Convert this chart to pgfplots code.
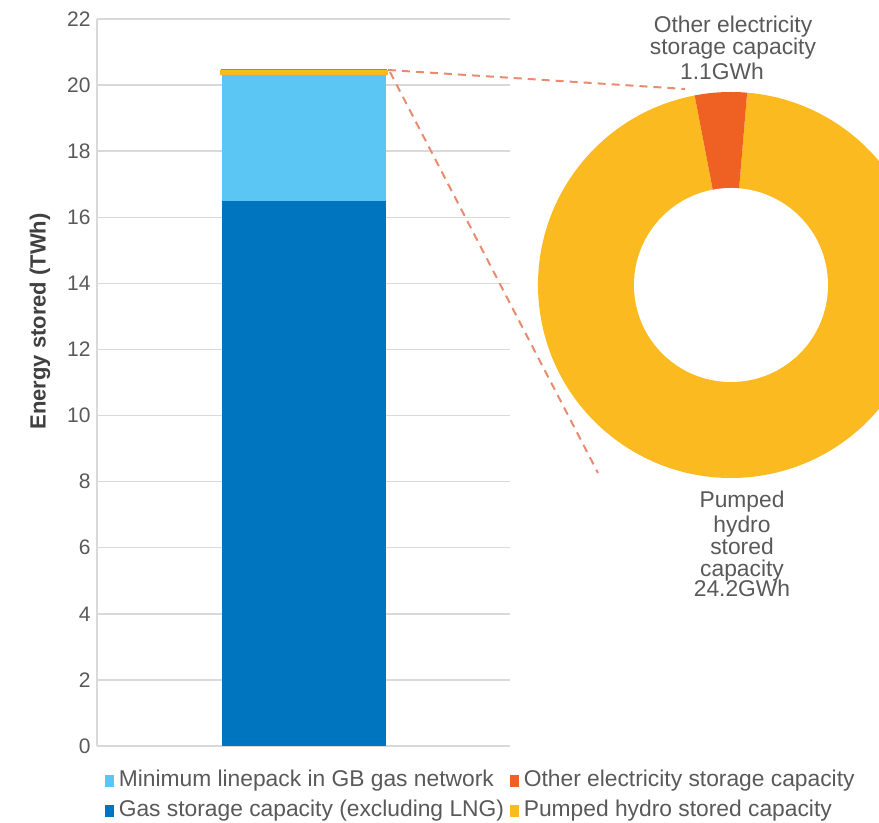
\documentclass[border=0pt]{standalone}
\usepackage{fontspec}
\setmainfont{Liberation Sans}
\usepackage{pgfplots}
\usepackage{pgfplotstable}
\pgfplotsset{compat=1.18}

\definecolor{gasblue}{HTML}{0075BF}
\definecolor{linepack}{HTML}{5BC6F3}
\definecolor{otherelec}{HTML}{EE6123}
\definecolor{pumped}{HTML}{FCBA21}
\definecolor{gridgray}{HTML}{D9D9D9}
\definecolor{txtgray}{HTML}{595959}
\definecolor{labelgray}{HTML}{404040}
\definecolor{dashc}{HTML}{E98B6E}

% Stored energy by category (TWh), stacked in one column
\pgfplotstableread{
pos gas  linepack pumped other
0   16.5 3.8      0.0242 0.0011
}\storedTWh

% Electricity storage split (GWh), shown as a ring
\def\pumpedGWh{24.2}
\def\otherGWh{1.1}
\def\ringstart{85.2}

\begin{document}
\begin{tikzpicture}
\pgfmathsetmacro{\otherend}{\ringstart+360*\otherGWh/(\pumpedGWh+\otherGWh)}
\pgfmathsetmacro{\ringend}{\ringstart+360}
\path[use as bounding box] (0pt,0pt) rectangle (439.5pt,411.5pt);
\clip (0pt,0pt) rectangle (439.5pt,411.5pt);

% stacked column
\begin{axis}[
  at={(48.5pt,38.5pt)}, anchor=south west,
  scale only axis, width=206.5pt, height=363.5pt,
  xmin=-1, xmax=1, ymin=0, ymax=22,
  ybar stacked, bar width=82pt,
  xtick=\empty, ytick={0,2,...,22},
  axis lines*=left,
  x axis line style={draw=none},
  y axis line style={draw=gridgray, line width=0.7pt},
  ymajorgrids, grid style={draw=gridgray, line width=0.7pt},
  major tick length=0pt,
  /pgf/number format/assume math mode=true,
  yticklabel style={font=\fontsize{10.5}{12}\selectfont, text=txtgray,
    anchor=east, inner sep=0pt, xshift=-3pt},
]
\addplot[fill=gasblue, draw=none] table[x=pos, y=gas] {\storedTWh};
\addplot[fill=linepack, draw=none] table[x=pos, y=linepack] {\storedTWh};
% the two electricity layers are far thinner than a pixel: outline them so they show
\addplot[fill=pumped, draw=pumped, line width=2pt, yshift=1.1pt] table[x=pos, y=pumped] {\storedTWh};
\addplot[fill=otherelec, draw=otherelec!85!pumped, line width=1pt, yshift=2.2pt] table[x=pos, y=other] {\storedTWh};
\end{axis}

% ring, connectors, labels and legend on a canvas-sized axis (units = pt)
\begin{axis}[
  at={(0pt,0pt)}, anchor=south west,
  scale only axis, width=439.5pt, height=411.5pt,
  xmin=0, xmax=439.5, ymin=0, ymax=411.5,
  hide axis, clip=false,
  legend columns=2, legend cell align=left,
  legend style={at={(0.11945,0.06926)}, anchor=north west,
    draw=none, fill=none, inner sep=0pt, outer sep=0pt, row sep=0pt,
    font=\fontsize{11.4}{13}\selectfont, text=txtgray,
    nodes={inner xsep=0pt, inner ysep=1.5pt, text height=9pt, text depth=3pt},
    /tikz/every odd column/.append style={column sep=2.5pt},
    /tikz/every even column/.append style={column sep=3pt}},
]
\addlegendimage{legend image code/.code={\fill[linepack] (0pt,-2.5pt) rectangle (4pt,3pt);}}
\addlegendentry{Minimum linepack in GB gas network}
\addlegendimage{legend image code/.code={\fill[otherelec] (0pt,-2.5pt) rectangle (4pt,3pt);}}
\addlegendentry{Other electricity storage capacity}
\addlegendimage{legend image code/.code={\fill[gasblue] (0pt,-2.5pt) rectangle (4pt,3pt);}}
\addlegendentry{Gas storage capacity (excluding LNG)}
\addlegendimage{legend image code/.code={\fill[pumped] (0pt,-2.5pt) rectangle (4pt,3pt);}}
\addlegendentry{Pumped hydro stored capacity}

% ring
\fill[pumped] (axis cs:365.5,269) -- ++(\otherend:96.5pt)
  arc[start angle=\otherend, end angle=\ringend, radius=96.5pt] -- cycle;
\fill[otherelec] (axis cs:365.5,269) -- ++(\ringstart:96.5pt)
  arc[start angle=\ringstart, end angle=\otherend, radius=96.5pt] -- cycle;
\fill[white] (axis cs:365.5,269) circle[radius=48.5pt];

% connectors from the top of the column to the ring
\draw[dashc, line width=1pt, dash pattern=on 4pt off 3pt]
  (axis cs:194,376.5) -- (axis cs:342.5,367);
\draw[dashc, line width=1pt, dash pattern=on 4pt off 3pt]
  (axis cs:195,375.5) -- (axis cs:299,175);

% ring labels
\begin{scope}[every node/.style={anchor=base, text=txtgray,
    font=\fontsize{11.4}{13}\selectfont, inner sep=0pt}]
\node at (axis cs:366.5,395) {Other electricity};
\node at (axis cs:366.5,384) {storage capacity};
\node at (axis cs:361,371.5) {1.1GWh};
\node at (axis cs:371,157.5) {Pumped};
\node at (axis cs:371,145) {hydro};
\node at (axis cs:371,134) {stored};
\node at (axis cs:371,123) {capacity};
\node at (axis cs:371,113) {24.2GWh};
\end{scope}

% value axis title
\node[rotate=90, text=labelgray, font=\fontsize{11}{13}\selectfont\bfseries]
  at (axis cs:20,250.75) {Energy stored (TWh)};
\end{axis}
\end{tikzpicture}
\end{document}
